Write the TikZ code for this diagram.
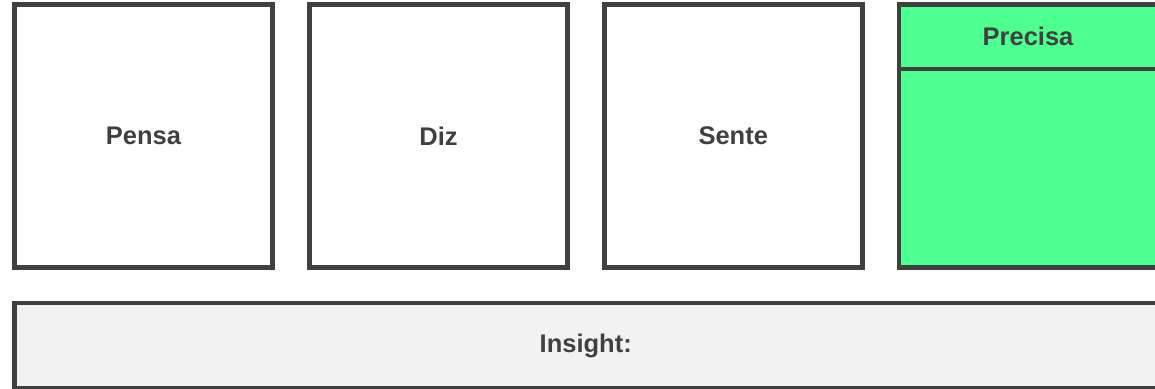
\documentclass[tikz,border=0pt]{standalone}
\usepackage{fontspec}
\setmainfont{Liberation Sans}
\definecolor{strokegray}{HTML}{404040}
\definecolor{textgray}{HTML}{404040}
\definecolor{needgreen}{HTML}{4CFF8F}
\definecolor{insightgray}{HTML}{F2F2F2}
\begin{document}
\begin{tikzpicture}[x=1pt,y=-1pt,
  panel/.style={draw=strokegray, line width=4.5pt, fill=white, minimum width=258pt, minimum height=263pt, inner sep=0pt, outer sep=0pt,
    font=\fontsize{25.5}{30}\selectfont\bfseries, text=textgray},
  header/.style={draw=strokegray, line width=4.5pt, fill=needgreen, minimum width=258pt, minimum height=64.5pt, inner sep=0pt, outer sep=0pt,
    font=\fontsize{25.5}{30}\selectfont\bfseries, text=textgray},
  insightbox/.style={draw=strokegray, line width=4.5pt, fill=insightgray, minimum width=1142.5pt, minimum height=85pt, inner sep=0pt, outer sep=0pt,
    font=\fontsize{25.5}{30}\selectfont\bfseries, text=textgray}]
\useasboundingbox (0,0) rectangle (1155,388);
\node[panel] (pensa) at (143.5,136) {Pensa};
\node[panel] (diz) at (438.5,136) {Diz};
\node[panel] (sente) at (733.25,136) {Sente};
\node[panel, fill=needgreen] (need) at (1028,136) {};
\node[header, anchor=north] (precisa) at (need.north) {Precisa};
\node[insightbox] (insight) at (585.75,345.5) {Insight:};
\end{tikzpicture}
\end{document}
